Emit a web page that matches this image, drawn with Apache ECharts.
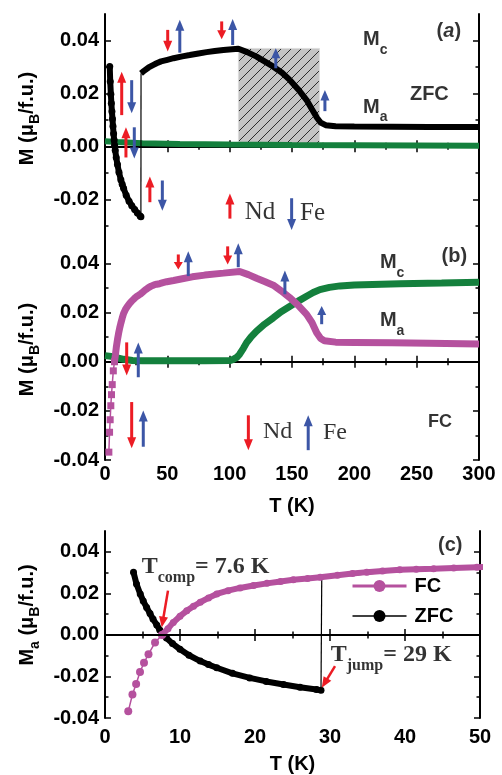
<!DOCTYPE html>
<html><head><meta charset="utf-8">
<script src="https://cdn.jsdelivr.net/npm/echarts@6/dist/echarts.min.js"></script>
<style>html,body{margin:0;padding:0;background:#fff}#c{width:502px;height:775px}</style>
</head><body><div id="c"></div>
<script>
// ---------------- data ----------------
// ZFC, Ma, below the jump (T in K, M in muB/f.u.)
const zfcLowT = [3.8, 4.2, 4.7, 5.1, 5.55, 6.0, 6.4, 6.9, 7.3, 7.7, 8.2, 9.0, 10.0, 11.2, 12.7, 13.8, 14.9, 17.0, 19.3, 21.5, 23.8, 26.0, 28.2, 28.8];
const zfcLowM = [0.0302, 0.0245, 0.0197, 0.0163, 0.0132, 0.0103, 0.0076, 0.0048, 0.0024, 0.0003, -0.0015, -0.0042, -0.0069, -0.0098, -0.0126, -0.0143, -0.0158, -0.0185, -0.0207, -0.0224, -0.0239, -0.0252, -0.0263, -0.0266];
// ZFC, Ma, above the jump
const zfcHighT = [28.9, 31, 35, 38.5, 41.4, 45, 50, 55, 62, 68, 75, 81.5, 88, 95, 102, 107, 114, 121.6, 128, 135, 142, 148.4, 155, 161.7, 166, 170, 173, 177, 185, 200, 230, 260, 300];
const zfcHighM = [0.0276, 0.0284, 0.0298, 0.0307, 0.0314, 0.0321, 0.0327, 0.0333, 0.0340, 0.0345, 0.0351, 0.0356, 0.0360, 0.0364, 0.0367, 0.0369, 0.0356, 0.0339, 0.0321, 0.0301, 0.0278, 0.0250, 0.0215, 0.0175, 0.0140, 0.0108, 0.0090, 0.0080, 0.0076, 0.0075, 0.0074, 0.0073, 0.0073];
// ZFC, Mc
const zfcMcT = [0, 10, 30, 60, 100, 150, 200, 250, 300];
const zfcMcM = [0.0019, 0.0016, 0.0012, 0.0009, 0.0007, 0.0005, 0.0004, 0.0003, 0.0002];
// FC, Ma, negative low-T part
const fcLowT = [3.1, 3.66, 4.15, 4.67, 5.2, 5.8, 6.67];
const fcLowM = [-0.0368, -0.0287, -0.0236, -0.0179, -0.0134, -0.0093, -0.0037];
// FC, Ma, from T_comp upward
const fcT = [7.6, 7.8, 8.4, 9.1, 10.0, 10.9, 11.8, 12.7, 13.8, 14.9, 16.4, 18.0, 19.8, 21.6, 23.4, 25.1, 27.0, 28.7, 31.0, 33.0, 34.9, 37.0, 39.3, 41.5, 43.8, 46.5, 49.6, 55, 62, 70, 80, 95, 108, 115, 121.6, 128, 135, 141, 148, 155, 161.7, 166, 169.8, 173, 176, 185, 200, 230, 260, 300];
const fcM = [0.0000, 0.0006, 0.0030, 0.0060, 0.0090, 0.0116, 0.0138, 0.0157, 0.0178, 0.0197, 0.0213, 0.0226, 0.0238, 0.0248, 0.0257, 0.0265, 0.0271, 0.0277, 0.0287, 0.0295, 0.0302, 0.0308, 0.0313, 0.0316, 0.0318, 0.0322, 0.0326, 0.0331, 0.0338, 0.0346, 0.0353, 0.0361, 0.0368, 0.0355, 0.0340, 0.0327, 0.0312, 0.0290, 0.0262, 0.0230, 0.0193, 0.0160, 0.0118, 0.0095, 0.0086, 0.0080, 0.0079, 0.0077, 0.0075, 0.0072];
// FC, Mc
const fcMcT = [0, 5, 10, 15, 22, 30, 50, 80, 100, 103, 106, 108, 111, 113.6, 117, 121.6, 128, 135, 141, 148.4, 155, 161.7, 167, 172.4, 180, 188.5, 200, 236.6, 270, 300];
const fcMcM = [0.0025, 0.0022, 0.0016, 0.0010, 0.0005, 0.0004, 0.0004, 0.0004, 0.0005, 0.0010, 0.0019, 0.0031, 0.0055, 0.0078, 0.0100, 0.0125, 0.0153, 0.0179, 0.0203, 0.0226, 0.0247, 0.0267, 0.0282, 0.0294, 0.0303, 0.0309, 0.0313, 0.0318, 0.0321, 0.0324];
// hatched region in (a): [T0, T1], [M0, M1]
const hatchT = [107, 172];
const hatchM = [0.0, 0.037];
// spin arrows [T tail, M tail, T head, M head]
const arrowsARed = [[13.4, 0.0118, 13.4, 0.0282], [16.8, -0.0042, 16.8, 0.0072], [36, -0.0211, 36, -0.0114], [50.3, 0.0440, 50.3, 0.0358], [93.6, 0.0472, 93.6, 0.0405], [100.2, -0.0273, 100.2, -0.0178]];
const arrowsABlue = [[21.4, 0.0250, 21.4, 0.0125], [23.5, 0.0072, 23.5, -0.0046], [46, -0.0129, 46, -0.0243], [60, 0.0354, 60, 0.0478], [102.4, 0.0383, 102.4, 0.0481], [137, 0.0295, 137, 0.0371], [176.4, 0.0133, 176.4, 0.0213], [149.7, -0.0196, 149.7, -0.0316]];
const arrowsBRed = [[17.4, 0.0079, 17.4, -0.0056], [21.4, -0.0164, 21.4, -0.0352], [58.8, 0.0437, 58.8, 0.0376], [98.4, 0.0470, 98.4, 0.0396], [115, -0.0218, 115, -0.0360]];
const arrowsBBlue = [[26.7, -0.0063, 26.7, 0.0079], [30.7, -0.0346, 30.7, -0.0198], [66.8, 0.0349, 66.8, 0.0450], [106.9, 0.0385, 106.9, 0.0483], [144.3, 0.0275, 144.3, 0.0372], [173.8, 0.0153, 173.8, 0.0227], [163, -0.0360, 163, -0.0218]];
const arrowsCRed = [[8.4, 0.0213, 7.56, 0.0035], [30.67, -0.0150, 28.9, -0.0255]];
// text annotations [T, M, text]
const labelsA = [[207, 0.0402, '{m|M}{s|c}'], [207, 0.0148, '{m|M}{s|a}'], [244.6, 0.0197, '{m|ZFC}'], [266, 0.0433, '{m|(}{i|a}{m|)}']];
const serifA = [[112, -0.0249, 'Nd'], [156.4, -0.0252, 'Fe']];
const labelsB = [[220.5, 0.0403, '{m|M}{s|c}'], [220.5, 0.0167, '{m|M}{s|a}'], [259, -0.0245, '{f|FC}'], [270, 0.0430, '{m|(b)}']];
const serifB = [[126.7, -0.0285, 'Nd'], [174.8, -0.0290, 'Fe']];
const labelsC = [[4.9, 0.0329, '{t|T}{ts|comp}{t|= 7.6 K}'], [30.1, -0.0098, '{t|T}{ts|jump}{t|= 29 K}'], [44.4, 0.0431, '{m|(c)}']];
// ticks
const xTicksMain = [0, 50, 100, 150, 200, 250, 300];
const xTicksC = [0, 10, 20, 30, 40, 50];
const yTicksA = [-0.02, 0.00, 0.02, 0.04];
const yTicksBC = [-0.04, -0.02, 0.00, 0.02, 0.04];
const yMinor = [-0.03, -0.01, 0.01, 0.03];

// ---------------- helpers ----------------
const zip = (a, b) => a.map((v, i) => [v, b[i]]);
const SANS = 'Liberation Sans', SERIF = 'Liberation Serif';
const RED = '#ec1c24', BLUE = '#3c56a6', MAG = '#b5519e', GREEN = '#14803d';

const hc = document.createElement('canvas'); hc.width = 10; hc.height = 10;
const g = hc.getContext('2d');
g.fillStyle = '#c3c3c3'; g.fillRect(0, 0, 10, 10);
g.strokeStyle = '#2a2a2a'; g.lineWidth = 1;
g.beginPath(); g.moveTo(0, 10); g.lineTo(10, 0); g.moveTo(-1, 1); g.lineTo(1, -1); g.moveTo(9, 11); g.lineTo(11, 9); g.stroke();

const grids = [
  {left: 105, top: 14, width: 374, height: 225},
  {left: 105, top: 239, width: 374, height: 221},
  {left: 105, top: 531, width: 375, height: 187}
];
const lineS = {lineStyle: {color: '#000', width: 2}};
const tickS = {show: true, inside: true, length: 6, lineStyle: {color: '#000', width: 1.5}};
const minorS = {show: true, splitNumber: 2, length: 3.5, lineStyle: {color: '#000', width: 1.5}};
const lblFont = {fontFamily: SANS, fontWeight: 'bold', fontSize: 20, color: '#000'};

function xAxes(gi, max, interval, showLabel, margin) {
  const base = {type: 'value', gridIndex: gi, min: 0, max: max, interval: interval,
    axisLine: lineS, axisTick: tickS, minorTick: minorS, splitLine: {show: false}};
  return [
    Object.assign({}, base, {position: 'bottom',
      axisLabel: Object.assign({show: showLabel, margin: margin}, lblFont),
      name: showLabel ? 'T (K)' : '', nameLocation: 'middle', nameGap: 36,
      nameTextStyle: {fontFamily: SANS, fontWeight: 'bold', fontSize: 20, color: '#000'}}),
    Object.assign({}, base, {position: 'top', axisLabel: {show: false}})
  ];
}
function yAxes(gi, min, major, name, gap, pad) {
  const base = {type: 'value', gridIndex: gi, min: min, max: 0.05, splitLine: {show: false}};
  const majT = Object.assign({}, tickS, {customValues: major});
  const minT = Object.assign({}, tickS, {length: 3.5, customValues: yMinor});
  return [
    Object.assign({}, base, {position: 'left', axisLine: lineS, axisTick: majT,
      axisLabel: Object.assign({customValues: major, margin: 6, formatter: v => v.toFixed(2)}, lblFont),
      name: name, nameLocation: 'middle', nameGap: gap,
      nameTextStyle: {fontFamily: SANS, fontWeight: 'bold', fontSize: 20, color: '#000', lineHeight: 30,
        padding: [0, 0, 0, pad], rich: {s: {fontFamily: SANS, fontWeight: 'bold', fontSize: 14, color: '#000', verticalAlign: 'bottom'}}}}),
    Object.assign({}, base, {position: 'left', axisLine: {show: false}, axisTick: minT, axisLabel: {show: false}}),
    Object.assign({}, base, {position: 'right', axisLine: lineS, axisTick: majT, axisLabel: {show: false}}),
    Object.assign({}, base, {position: 'right', axisLine: {show: false}, axisTick: minT, axisLabel: {show: false}})
  ];
}

function arrowRender(shaft, headL, headW) {
  return function (params, api) {
    const p0 = api.coord([api.value(0), api.value(1)]);
    const p1 = api.coord([api.value(2), api.value(3)]);
    const dx = p1[0] - p0[0], dy = p1[1] - p0[1];
    const len = Math.hypot(dx, dy) || 1;
    const ux = dx / len, uy = dy / len;
    const hl = Math.min(headL, len * 0.5);
    const bx = p1[0] - ux * hl, by = p1[1] - uy * hl;
    const nx = -uy, ny = ux;
    const color = api.visual('color');
    return {type: 'group', children: [
      {type: 'line', shape: {x1: p0[0], y1: p0[1], x2: bx + ux, y2: by + uy}, style: {stroke: color, lineWidth: shaft}},
      {type: 'polygon', shape: {points: [[p1[0], p1[1]], [bx + nx * headW, by + ny * headW], [bx - nx * headW, by - ny * headW]]}, style: {fill: color}}
    ]};
  };
}
function arrowSeries(xi, yi, data, color, shaft, headL, headW) {
  return {type: 'custom', xAxisIndex: xi, yAxisIndex: yi, data: data, clip: false, z: 5,
    itemStyle: {color: color}, encode: {x: [0, 2], y: [1, 3]}, silent: true,
    renderItem: arrowRender(shaft, headL, headW)};
}
const richM = {
  m: {fontFamily: SANS, fontWeight: 'bold', fontSize: 20, color: '#000'},
  i: {fontFamily: SANS, fontWeight: 'bold', fontStyle: 'italic', fontSize: 20, color: '#000'},
  f: {fontFamily: SANS, fontWeight: 'bold', fontSize: 18, color: '#000'},
  s: {fontFamily: SANS, fontWeight: 'bold', fontSize: 14, color: '#000', verticalAlign: 'bottom'},
  t: {fontFamily: SERIF, fontWeight: 'bold', fontSize: 24, color: '#000'},
  ts: {fontFamily: SERIF, fontWeight: 'bold', fontSize: 16, color: '#000', verticalAlign: 'bottom'}
};
function labelSeries(xi, yi, items, lh) {
  return {type: 'scatter', xAxisIndex: xi, yAxisIndex: yi, symbolSize: 0, silent: true, z: 6,
    data: items.map(d => ({value: [d[0], d[1]], label: {formatter: d[2]}})),
    label: {show: true, position: 'right', distance: 0, lineHeight: lh, rich: richM}};
}
function serifSeries(xi, yi, items, size) {
  return {type: 'scatter', xAxisIndex: xi, yAxisIndex: yi, symbolSize: 0, silent: true, z: 6,
    data: items.map(d => ({value: [d[0], d[1]], label: {formatter: d[2]}})),
    label: {show: true, position: 'right', distance: 0, fontFamily: SERIF, fontSize: size, color: '#000'}};
}

const jump = [[zfcLowT[zfcLowT.length - 1], zfcLowM[zfcLowM.length - 1]], [zfcHighT[0], zfcHighM[0]]];
const fcLowJoined = zip(fcLowT, fcLowM).concat([[fcT[0], fcM[0]]]);

const series = [
  // ---- panel (a) ----
  {type: 'line', xAxisIndex: 0, yAxisIndex: 0, data: [], z: 1, silent: true,
    markArea: {silent: true, itemStyle: {color: {image: hc, repeat: 'repeat'}, borderColor: '#dcdcdc', borderWidth: 1},
      data: [[{coord: [hatchT[0], hatchM[0]]}, {coord: [hatchT[1], hatchM[1]]}]]}},
  {type: 'line', xAxisIndex: 0, yAxisIndex: 0, data: zip(zfcMcT, zfcMcM), showSymbol: false, z: 2,
    lineStyle: {color: GREEN, width: 6}},
  {type: 'line', xAxisIndex: 0, yAxisIndex: 0, data: zip(zfcLowT, zfcLowM), symbol: 'circle', symbolSize: 7, z: 3,
    itemStyle: {color: '#000'}, lineStyle: {color: '#000', width: 6}},
  {type: 'line', xAxisIndex: 0, yAxisIndex: 0, data: jump, showSymbol: false, z: 3, lineStyle: {color: '#000', width: 1.2}},
  {type: 'line', xAxisIndex: 0, yAxisIndex: 0, data: zip(zfcHighT, zfcHighM), showSymbol: false, z: 3,
    lineStyle: {color: '#000', width: 6}},
  arrowSeries(0, 0, arrowsARed, RED, 3, 11, 4.5),
  arrowSeries(0, 0, arrowsABlue, BLUE, 3, 11, 4.5),
  labelSeries(0, 0, labelsA, 34),
  serifSeries(0, 0, serifA, 25),
  // ---- panel (b) ----
  {type: 'line', xAxisIndex: 2, yAxisIndex: 4, data: zip(fcMcT, fcMcM), showSymbol: false, z: 2,
    lineStyle: {color: GREEN, width: 7}},
  {type: 'line', xAxisIndex: 2, yAxisIndex: 4, data: fcLowJoined, symbol: 'rect', symbolSize: 7, z: 3,
    itemStyle: {color: MAG}, lineStyle: {color: MAG, width: 1.5}},
  {type: 'line', xAxisIndex: 2, yAxisIndex: 4, data: zip(fcT, fcM), showSymbol: false, z: 3,
    lineStyle: {color: MAG, width: 7}},
  arrowSeries(2, 4, arrowsBRed, RED, 3, 11, 4.5),
  arrowSeries(2, 4, arrowsBBlue, BLUE, 3, 11, 4.5),
  labelSeries(2, 4, labelsB, 34),
  serifSeries(2, 4, serifB, 24),
  // ---- panel (c) ----
  {type: 'line', xAxisIndex: 4, yAxisIndex: 8, data: zip(zfcHighT, zfcHighM), showSymbol: false, z: 2,
    lineStyle: {color: '#000', width: 3},
    markLine: {silent: true, symbol: ['none', 'none'], label: {show: false}, lineStyle: {color: '#000', width: 2, type: 'solid'},
      data: [{yAxis: 0}]}},
  {type: 'line', xAxisIndex: 4, yAxisIndex: 8, data: jump, showSymbol: false, z: 2, lineStyle: {color: '#000', width: 1.2}},
  {name: 'ZFC', type: 'line', xAxisIndex: 4, yAxisIndex: 8, data: zip(zfcLowT, zfcLowM), symbol: 'circle', symbolSize: 7, z: 3,
    itemStyle: {color: '#000'}, lineStyle: {color: '#000', width: 6}},
  {type: 'line', xAxisIndex: 4, yAxisIndex: 8, data: fcLowJoined, symbol: 'circle', symbolSize: 8, z: 4,
    itemStyle: {color: MAG}, lineStyle: {color: MAG, width: 1.5}},
  {name: 'FC', type: 'line', xAxisIndex: 4, yAxisIndex: 8, data: zip(fcT, fcM), symbol: 'circle', symbolSize: 7, z: 4,
    itemStyle: {color: MAG}, lineStyle: {color: MAG, width: 6}},
  arrowSeries(4, 8, arrowsCRed, RED, 2.5, 11, 4.5),
  labelSeries(4, 8, labelsC, 38)
];

const option = {
  animation: false,
  backgroundColor: '#fff',
  grid: grids,
  xAxis: [].concat(xAxes(0, 300, 50, false, 4), xAxes(1, 300, 50, true, 4), xAxes(2, 50, 10, true, 9)),
  yAxis: [].concat(
    yAxes(0, -0.035, yTicksA, 'M (μ{s|B}/f.u.)', 62, 16),
    yAxes(1, -0.04, yTicksBC, 'M (μ{s|B}/f.u.)', 62, 0),
    yAxes(2, -0.04, yTicksBC, 'M{s|a} (μ{s|B}/f.u.)', 57, 19)),
  legend: {left: 346, top: 571, orient: 'vertical', itemGap: 10, itemWidth: 54, itemHeight: 15, selectedMode: false,
    textStyle: {fontFamily: SANS, fontWeight: 'bold', fontSize: 20, color: '#000', padding: [0, 0, 0, 3]},
    data: [{name: 'FC', lineStyle: {width: 3}}, {name: 'ZFC', lineStyle: {width: 1.5}}]},
  series: series
};
const chart = echarts.init(document.getElementById('c'));
chart.setOption(option);
</script>
</body></html>
